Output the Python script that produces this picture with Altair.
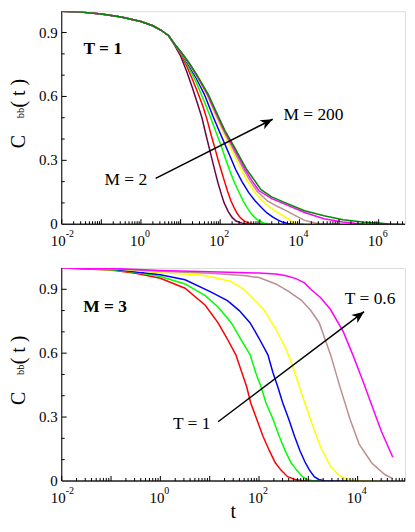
import altair as alt
import pandas as pd

FONT = "Liberation Serif"

# ---------------- data: top panel (T = 1, various M) ----------------
top_names = ["M = 2", "M = 3", "M = 5", "M = 10", "M = 20", "M = 50", "M = 100", "M = 200"]
top_colors = ["#670748", "#ff0000", "#00ff00", "#0000ff", "#ffff00", "#bc8f8f", "#ff00ff", "#008b00"]

top_head_logt = [-2, -1.5, -1, -0.5, 0, 0.3, 0.5, 0.7]
top_head_c = [1.0, 0.996, 0.987, 0.973, 0.952, 0.932, 0.912, 0.885]

m2_logt = [0.85, 1.0, 1.15, 1.3, 1.42, 1.54, 1.64, 1.72, 1.8, 1.88, 1.95, 2.03, 2.1, 2.2, 2.3, 2.4, 2.55, 2.7, 2.9]
m2_c = [0.84, 0.79, 0.72, 0.64, 0.57, 0.50, 0.42, 0.36, 0.30, 0.24, 0.19, 0.14, 0.10, 0.06, 0.032, 0.015, 0.005, 0.0, 0.0]
m3_logt = [0.85, 1.0, 1.15, 1.3, 1.45, 1.57, 1.67, 1.77, 1.87, 1.95, 2.03, 2.11, 2.19, 2.27, 2.35, 2.43, 2.51, 2.62, 2.75, 2.9, 3.1]
m3_c = [0.845, 0.80, 0.745, 0.68, 0.61, 0.55, 0.49, 0.42, 0.355, 0.30, 0.25, 0.20, 0.152, 0.11, 0.078, 0.05, 0.03, 0.013, 0.004, 0.0, 0.0]
m5_logt = [0.85, 1.0, 1.2, 1.4, 1.6, 1.75, 1.9, 2.03, 2.13, 2.23, 2.35, 2.48, 2.58, 2.68, 2.78, 2.88, 2.98, 3.1, 3.25, 3.35, 3.6]
m5_c = [0.845, 0.805, 0.74, 0.665, 0.575, 0.505, 0.43, 0.365, 0.31, 0.257, 0.2, 0.148, 0.11, 0.078, 0.05, 0.03, 0.016, 0.006, 0.001, 0.0, 0.0]
m10_logt = [0.85, 1.0, 1.2, 1.4, 1.6, 1.81, 1.98, 2.15, 2.27, 2.39, 2.55, 2.72, 2.88, 3.04, 3.18, 3.33, 3.45, 3.57, 3.7, 3.85, 4.1]
m10_c = [0.845, 0.807, 0.75, 0.685, 0.61, 0.511, 0.435, 0.362, 0.31, 0.257, 0.2, 0.148, 0.11, 0.078, 0.053, 0.033, 0.02, 0.01, 0.003, 0.0, 0.0]
m20_logt = [0.85, 1.0, 1.2, 1.4, 1.65, 1.86, 2.05, 2.25, 2.38, 2.52, 2.68, 2.85, 3.05, 3.25, 3.45, 3.65, 3.8, 3.9, 4.0, 4.3]
m20_c = [0.845, 0.808, 0.755, 0.695, 0.61, 0.52, 0.44, 0.362, 0.312, 0.26, 0.205, 0.155, 0.112, 0.08, 0.055, 0.033, 0.014, 0.005, 0.0, 0.0]
m50_logt = [0.85, 1.0, 1.2, 1.4, 1.67, 1.88, 2.08, 2.3, 2.44, 2.58, 2.75, 2.93, 3.2, 3.45, 3.65, 3.9, 4.13, 4.4, 4.7, 5.0]
m50_c = [0.845, 0.81, 0.758, 0.70, 0.61, 0.52, 0.44, 0.362, 0.31, 0.26, 0.205, 0.155, 0.108, 0.083, 0.065, 0.04, 0.018, 0.006, 0.0, 0.0]
m100_logt = [0.85, 1.0, 1.2, 1.4, 1.68, 1.9, 2.1, 2.33, 2.48, 2.62, 2.8, 2.98, 3.3, 3.65, 4.13, 4.62, 5.1, 5.4, 5.67, 5.9]
m100_c = [0.845, 0.81, 0.76, 0.702, 0.61, 0.52, 0.44, 0.362, 0.31, 0.26, 0.205, 0.157, 0.12, 0.093, 0.055, 0.026, 0.01, 0.004, 0.0, 0.0]
m200_logt = [0.85, 1.0, 1.2, 1.4, 1.7, 1.92, 2.12, 2.36, 2.51, 2.66, 2.85, 3.03, 3.3, 3.65, 4.13, 4.62, 5.1, 5.59, 6.07, 6.3, 6.5]
m200_c = [0.845, 0.812, 0.762, 0.705, 0.61, 0.52, 0.44, 0.362, 0.31, 0.26, 0.21, 0.162, 0.128, 0.1, 0.063, 0.04, 0.021, 0.01, 0.005, 0.0, 0.0]

top_tails = [(m2_logt, m2_c), (m3_logt, m3_c), (m5_logt, m5_c), (m10_logt, m10_c),
             (m20_logt, m20_c), (m50_logt, m50_c), (m100_logt, m100_c), (m200_logt, m200_c)]

# ---------------- data: bottom panel (M = 3, various T) ----------------
bot_names = ["T = 1", "T = 0.9", "T = 0.8", "T = 0.7", "T = 0.65", "T = 0.6"]
bot_colors = ["#ff0000", "#00ff00", "#0000ff", "#ffff00", "#bc8f8f", "#ff00ff"]

t1_logt = [-2, -1, -0.5, 0, 0.5, 0.91, 1.17, 1.35, 1.53, 1.65, 1.75, 1.83, 1.95, 2.08, 2.21, 2.33, 2.44, 2.58, 2.73, 2.92, 3.3]
t1_c = [1.0, 0.99, 0.975, 0.952, 0.905, 0.825, 0.742, 0.67, 0.592, 0.51, 0.442, 0.367, 0.292, 0.21, 0.142, 0.085, 0.052, 0.02, 0.007, 0.0, 0.0]
t09_logt = [-2, -1, -0.5, 0, 0.5, 0.91, 1.17, 1.44, 1.62, 1.82, 1.93, 2.04, 2.14, 2.28, 2.41, 2.53, 2.65, 2.76, 2.88, 2.97, 3.12, 3.5]
t09_c = [1.0, 0.992, 0.98, 0.96, 0.925, 0.87, 0.817, 0.742, 0.67, 0.592, 0.51, 0.442, 0.367, 0.292, 0.21, 0.142, 0.085, 0.052, 0.02, 0.007, 0.0, 0.0]
t08_logt = [-2, -1, 0, 0.5, 1.0, 1.36, 1.6, 1.82, 2.0, 2.18, 2.28, 2.38, 2.48, 2.6, 2.72, 2.83, 2.93, 3.02, 3.12, 3.21, 3.35, 3.8]
t08_c = [1.0, 0.995, 0.968, 0.945, 0.89, 0.847, 0.8, 0.742, 0.67, 0.592, 0.51, 0.442, 0.367, 0.292, 0.21, 0.142, 0.09, 0.052, 0.02, 0.007, 0.0, 0.0]
t07_logt = [-2, -1, 0, 0.78, 1.0, 1.43, 1.69, 2.08, 2.34, 2.54, 2.67, 2.86, 3.06, 3.25, 3.45, 3.6, 3.71, 3.9, 4.0, 4.4]
t07_c = [1.0, 0.997, 0.978, 0.968, 0.96, 0.937, 0.9, 0.81, 0.713, 0.623, 0.548, 0.413, 0.278, 0.158, 0.068, 0.03, 0.015, 0.002, 0.0, 0.0]
t065_logt = [-2, -1, 0, 1.0, 1.69, 2.0, 2.34, 2.6, 2.86, 3.05, 3.22, 3.45, 3.64, 3.84, 4.03, 4.29, 4.55, 4.71]
t065_c = [1.0, 0.998, 0.985, 0.975, 0.965, 0.955, 0.925, 0.89, 0.848, 0.8, 0.743, 0.593, 0.443, 0.293, 0.173, 0.083, 0.03, 0.011]
t06_logt = [-2, -1, 0, 1.0, 2.0, 2.34, 2.53, 2.75, 2.92, 3.05, 3.25, 3.45, 3.71, 3.9, 4.1, 4.29, 4.48, 4.71]
t06_c = [1.0, 0.998, 0.988, 0.982, 0.976, 0.972, 0.965, 0.95, 0.93, 0.9, 0.86, 0.805, 0.70, 0.593, 0.473, 0.353, 0.233, 0.112]

bot_curves = [(t1_logt, t1_c), (t09_logt, t09_c), (t08_logt, t08_c),
              (t07_logt, t07_c), (t065_logt, t065_c), (t06_logt, t06_c)]

# axis ticks and labels
top_xmax_exp = 6.665
bot_xmax_exp = 4.96
top_label_exps = [-2, 0, 2, 4, 6]
bot_label_exps = [-2, 0, 2, 4]
y_label_vals = [0, 0.3, 0.6, 0.9]
y_label_txt = ["0", "0.3", "0.6", "0.9"]
y_major = [0.3, 0.6, 0.9]
y_minor = [0.1, 0.2, 0.4, 0.5, 0.7, 0.8]

# annotations (log10 t, C)
top_texts = [("T = 1", -0.964, 0.798, "bold", "center"),
             ("M = 200", 3.595, 0.489, "normal", "left"),
             ("M = 2", -0.922, 0.184, "normal", "left")]
top_arrow = (0.371, 0.215, 3.325, 0.493)
bot_texts = [("M = 3", -1.119, 0.795, "bold", "center"),
             ("T = 0.6", 3.739, 0.833, "normal", "left"),
             ("T = 1", 0.255, 0.246, "normal", "left")]
bot_arrow = (1.17, 0.278, 4.13, 0.795)

W = 345
H = 214
ARROW = "M0,0 L-1,-0.42 L-0.72,0 L-1,0.42 Z"


def make_panel(curves, names, colors, head, xmax_exp, label_exps, texts, arrow, arrow_angle, xtitle):
    xs = alt.Scale(type="log", domain=[10 ** -2, 10 ** xmax_exp], nice=False)
    ys = alt.Scale(domain=[0, 1], nice=False)

    def X(f):
        return alt.X(f, scale=xs, axis=None)

    def Y(f):
        return alt.Y(f, scale=ys, axis=None)

    layers = []
    for (lt, cc), name, col in zip(curves, names, colors):
        if head is not None:
            lt = head[0] + lt
            cc = head[1] + cc
        df = pd.DataFrame({"t": [10 ** v for v in lt], "c": cc, "series": name})
        layers.append(alt.Chart(df).mark_line(strokeWidth=1.5, color=col, clip=True).encode(
            x=X("t:Q"), y=Y("c:Q")))

    # axis lines
    layers.append(alt.Chart(pd.DataFrame({"a": [0]})).mark_rule(color="black", strokeWidth=1).encode(
        x=alt.value(0), y=alt.value(0), y2=alt.value(H)))
    layers.append(alt.Chart(pd.DataFrame({"a": [0]})).mark_rule(color="#222222", strokeWidth=1.5).encode(
        x=alt.value(0), x2=alt.value(W), y=alt.value(H)))

    # x ticks
    minor_t, major_t = [], []
    for e in range(-2, 7):
        if e <= xmax_exp:
            major_t.append(10 ** e)
        for k in range(2, 10):
            v = k * 10 ** e
            if v < 10 ** xmax_exp:
                minor_t.append(v)
    layers.append(alt.Chart(pd.DataFrame({"t": minor_t})).mark_rule(color="black", strokeWidth=1).encode(
        x=X("t:Q"), y=alt.value(H), y2=alt.value(H - 3)))
    layers.append(alt.Chart(pd.DataFrame({"t": major_t})).mark_rule(color="black", strokeWidth=1).encode(
        x=X("t:Q"), y=alt.value(H), y2=alt.value(H - 5)))
    # y ticks
    layers.append(alt.Chart(pd.DataFrame({"c": y_minor})).mark_rule(color="black", strokeWidth=1).encode(
        y=Y("c:Q"), x=alt.value(0), x2=alt.value(3)))
    layers.append(alt.Chart(pd.DataFrame({"c": y_major})).mark_rule(color="black", strokeWidth=1).encode(
        y=Y("c:Q"), x=alt.value(0), x2=alt.value(5)))

    # y tick labels
    ylab = pd.DataFrame({"c": y_label_vals, "txt": y_label_txt})
    layers.append(alt.Chart(ylab).mark_text(font=FONT, fontSize=15, align="right", baseline="middle",
                                            color="black").encode(
        y=Y("c:Q"), x=alt.value(-4), text="txt:N"))

    # x tick labels 10^e
    lab = pd.DataFrame({"t": [10 ** e for e in label_exps], "base": "10", "exp": [str(e) for e in label_exps]})
    layers.append(alt.Chart(lab).mark_text(font=FONT, fontSize=15, align="right", baseline="alphabetic",
                                           dx=4, color="black").encode(
        x=X("t:Q"), y=alt.value(H + 22), text="base:N"))
    layers.append(alt.Chart(lab).mark_text(font=FONT, fontSize=10, align="left", baseline="alphabetic",
                                           dx=4, color="black").encode(
        x=X("t:Q"), y=alt.value(H + 13), text="exp:N"))

    # annotations
    for txt, lt, cv, weight, align in texts:
        d = pd.DataFrame({"t": [10 ** lt], "c": [cv], "label": [txt]})
        layers.append(alt.Chart(d).mark_text(font=FONT, fontSize=17.5, fontWeight=weight, align=align,
                                             baseline="alphabetic", color="black").encode(
            x=X("t:Q"), y=Y("c:Q"), text="label:N"))
    a = pd.DataFrame({"t": [10 ** arrow[0]], "c": [arrow[1]], "t2": [10 ** arrow[2]], "c2": [arrow[3]]})
    layers.append(alt.Chart(a).mark_rule(color="black", strokeWidth=1.5).encode(
        x=X("t:Q"), y=Y("c:Q"), x2="t2:Q", y2="c2:Q"))
    layers.append(alt.Chart(a).mark_point(shape=ARROW, filled=True, size=600, angle=arrow_angle,
                                          color="black", opacity=1, strokeWidth=0).encode(
        x=X("t2:Q"), y=Y("c2:Q")))

    # y title: C_bb ( t )
    layers.append(alt.Chart(pd.DataFrame({"s": ["C"]})).mark_text(
        font=FONT, fontSize=20, angle=270, align="center", baseline="alphabetic", color="black").encode(
        x=alt.value(-37), y=alt.value(H * 0.612), text="s:N"))
    layers.append(alt.Chart(pd.DataFrame({"s": ["bb"]})).mark_text(
        font=FONT, fontSize=10.5, angle=270, align="center", baseline="alphabetic", color="black").encode(
        x=alt.value(-37.5), y=alt.value(H * 0.478), text="s:N"))
    layers.append(alt.Chart(pd.DataFrame({"s": ["( t )"]})).mark_text(
        font=FONT, fontSize=20, angle=270, align="center", baseline="alphabetic", color="black").encode(
        x=alt.value(-37), y=alt.value(H * 0.385), text="s:N"))
    if xtitle:
        layers.append(alt.Chart(pd.DataFrame({"s": ["t"]})).mark_text(
            font=FONT, fontSize=20, align="center", baseline="alphabetic", color="black").encode(
            x=alt.value(W / 2), y=alt.value(H + 37), text="s:N"))

    return alt.layer(*layers).properties(width=W, height=H)


top = make_panel(top_tails, top_names, top_colors, (top_head_logt, top_head_c), top_xmax_exp,
                 top_label_exps, top_texts, top_arrow, 333, False)
bottom = make_panel(bot_curves, bot_names, bot_colors, None, bot_xmax_exp,
                    bot_label_exps, bot_texts, bot_arrow, 323, True)

chart = alt.vconcat(top, bottom, spacing=44, bounds="flush").properties(
    padding={"left": 0, "top": 1, "right": 0, "bottom": 0}
).configure_view(stroke="#8c8c8c", strokeWidth=2).configure(background="white")

chart.save("out.html", embed_options={"renderer": "svg", "actions": False})
